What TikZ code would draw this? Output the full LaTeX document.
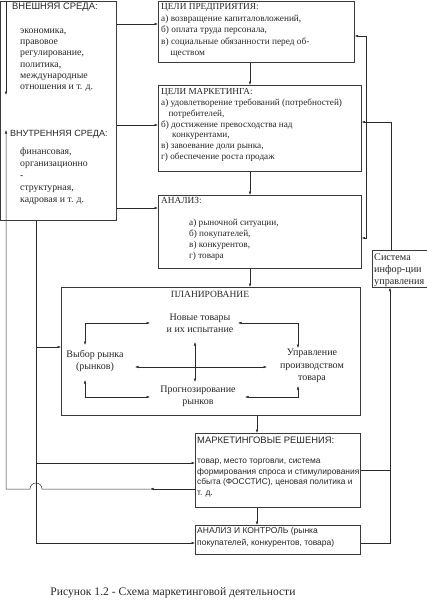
\documentclass[tikz,border=0pt]{standalone}
\usepackage{fontspec}
\setmainfont{Liberation Serif}
\setsansfont{Liberation Sans}
\usetikzlibrary{arrows.meta, positioning}
\definecolor{boxgray}{HTML}{3A3A3A}
\definecolor{linegray}{HTML}{2A2A2A}
\definecolor{txtgray}{HTML}{262626}

\begin{document}
\begin{tikzpicture}[
    x=1pt, y=-1pt,
    >={Latex[length=3.5pt,width=2.6pt]}, % small filled tips
    box/.style={draw=boxgray, line width=0.7pt, anchor=north west, inner sep=0pt}, % frames
    txt/.style={anchor=north west, inner sep=0pt, align=left, text=txtgray,
                font=\fontsize{9.3}{11.5}\selectfont}, % serif texts
    stxt/.style={txt, font=\sffamily\fontsize{8.4}{10.5}\selectfont}, % sans texts
    shead/.style={txt, font=\sffamily\fontsize{9.4}{11}\selectfont}, % sans headers
    ctxt/.style={txt, anchor=center, align=center, font=\fontsize{10}{11.8}\selectfont}, % centred texts
    link/.style={draw=linegray, line width=0.5pt},
    arr/.style={link, ->},
    dblarr/.style={link, <->}
]
    \useasboundingbox (0,0) rectangle (427,600);

    % Frames
    \node[box, minimum width=115.5pt, minimum height=219.5pt] (env) at (0.5,0.5) {};
    \node[box, minimum width=196pt, minimum height=61pt] (tp) at (158,1) {};
    \node[box, minimum width=203pt, minimum height=86pt] (tm) at (158,85) {};
    \node[box, minimum width=203pt, minimum height=73pt] (an) at (158,195) {};
    \node[box, minimum width=299pt, minimum height=128pt] (pl) at (61,287) {};
    \node[box, minimum width=165pt, minimum height=74pt] (mr) at (195,433) {};
    \node[box, minimum width=165pt, minimum height=29pt] (ak) at (195,525) {};
    \node[box, minimum width=54.5pt, minimum height=37pt] (si) at (372,250) {};

    % Environment texts
    \node[shead] (exthead) at (12,3) {ВНЕШНЯЯ СРЕДА:};
    \node[txt, font=\fontsize{9.8}{11.3}\selectfont] (extlist) at (20,28.5)
        {экономика,\\правовое\\регулирование,\\политика,\\международные\\отношения и т. д.};
    \node[shead, font=\sffamily\fontsize{9}{11}\selectfont] (inthead) at (10,130) {ВНУТРЕННЯЯ СРЕДА:};
    \node[txt, font=\fontsize{9.8}{12}\selectfont] (intlist) at (20,147.5)
        {финансовая,\\организационно\\-\\структурная,\\кадровая и т. д.};

    % Goals and analysis texts
    \node[txt] (tptext) at (161,3.5)
        {ЦЕЛИ ПРЕДПРИЯТИЯ:\\а) возвращение капиталовложений,\\б) оплата труда персонала,\\
         в) социальные обязанности перед об-\\\hspace*{1em}ществом};
    \node[txt, font=\fontsize{9.2}{10.8}\selectfont] (tmtext) at (161,88.5)
        {ЦЕЛИ МАРКЕТИНГА:\\а) удовлетворение требований (потребностей)\\\hspace*{0.8em}потребителей,\\
         б) достижение превосходства над\\\hspace*{1.2em}конкурентами,\\в) завоевание доли рынка,\\
         г) обеспечение роста продаж};
    \node[txt] (anhead) at (161,197.5) {АНАЛИЗ:};
    \node[txt, font=\fontsize{9.2}{11.2}\selectfont] (anlist) at (189,218.5)
        {а) рыночной ситуации,\\б) покупателей,\\в) конкурентов,\\г) товара};

    % Planning texts
    \node[ctxt, font=\fontsize{9.5}{11}\selectfont] (plhead) at (210,294) {ПЛАНИРОВАНИЕ};
    \node[ctxt] (nt) at (200,323) {Новые товары\\и их испытание};
    \node[ctxt] (vr) at (95,361) {Выбор рынка\\(рынков)};
    \node[ctxt, font=\fontsize{10}{12.5}\selectfont] (up) at (312,366) {Управление\\производством\\товара};
    \node[ctxt] (pr) at (198,396) {Прогнозирование\\рынков};

    % Decisions, control, information texts
    \node[shead] (mrhead) at (197,436.5) {МАРКЕТИНГОВЫЕ РЕШЕНИЯ:};
    \node[stxt] (mrtext) at (197,459)
        {товар, место торговли, система\\формирования спроса и стимулирования\\
         сбыта (ФОССТИС), ценовая политика и\\т. д.};
    \node[stxt, font=\sffamily\fontsize{8.5}{11.5}\selectfont] (aktext) at (197,527.5)
        {АНАЛИЗ И КОНТРОЛЬ (рынка\\покупателей, конкурентов, товара)};
    \node[txt, font=\fontsize{10.2}{12}\selectfont] (sitext) at (374,253.5)
        {Система\\инфор-ции\\управления};

    % Caption
    \node[ctxt, font=\fontsize{11.6}{13}\selectfont] (caption) at (173,593)
        {Рисунок 1.2 - Схема маркетинговой деятельности};

    % Inputs from the environment
    \coordinate (tpin) at ([yshift=-23pt]tp.north west);
    \coordinate (tmin) at ([yshift=-40pt]tm.north west);
    \coordinate (anin) at ([yshift=-13pt]an.north west);
    \draw[arr] (env.east |- tpin) -- (tpin);
    \draw[arr] (env.east |- tmin) -- (tmin);
    \draw[arr] (env.east |- anin) -- (anin);

    % Trunk down the left side
    \coordinate (trunk) at ([xshift=35.5pt]env.south west);
    \coordinate (plin) at ([yshift=-60pt]pl.north west);
    \coordinate (mrin) at ([yshift=-30pt]mr.north west);
    \coordinate (akin) at ([yshift=-18pt]ak.north west);
    \draw[arr] (trunk) |- (akin);
    \draw[arr] (trunk |- plin) -- (plin);
    \draw[arr] (trunk |- mrin) -- (mrin);

    % Feedback of decisions to the environment
    \coordinate (envtop) at ([xshift=5.5pt]env.north west);
    \coordinate (envext) at ([xshift=5.5pt,yshift=-94.5pt]env.north west);
    \coordinate (envint) at ([xshift=5.5pt,yshift=-129.5pt]env.north west);
    \coordinate (mrout) at ([yshift=-56pt]mr.north west);
    \coordinate (mrmid) at ([xshift=-45pt]mrout);
    \coordinate (hop) at (trunk |- mrout);
    \draw[arr] (envtop) -- (envext);
    \draw[arr] (mrout) -- (mrmid);
    \draw[arr] (mrmid) -- ([xshift=6pt]hop) arc[start angle=0, end angle=180, radius=6pt]
        -- (envint |- mrout) -- (envint);

    % Main chain
    \coordinate (chain) at ([xshift=92pt]tp.south west);
    \coordinate (chaintwo) at ([xshift=62pt]mr.north west);
    \draw[arr] (tp.south -| chain) -- (tm.north -| chain);
    \draw[arr] (tm.south -| chain) -- (an.north -| chain);
    \draw[arr] (an.south -| chain) -- (pl.north -| chain);
    \draw[arr] (pl.south -| chaintwo) -- (mr.north -| chaintwo);
    \draw[arr] (mr.south -| chaintwo) -- (ak.north -| chaintwo);

    % Links inside planning
    \coordinate (ntL) at (150,323);
    \coordinate (ntR) at (238,323);
    \coordinate (prL) at (150,397);
    \coordinate (prR) at (245,397);
    \coordinate (vrT) at (85,345);
    \coordinate (vrB) at (85,380);
    \coordinate (upT) at (298,348);
    \coordinate (upB) at (298,386);
    \coordinate (crossL) at (135,367);
    \coordinate (crossR) at (267,367);
    \coordinate (crossT) at (195,342);
    \coordinate (crossB) at (195,382);
    \draw[dblarr] (ntL) -| (vrT);
    \draw[dblarr] (ntR) -| (upT);
    \draw[dblarr] (prL) -| (vrB);
    \draw[dblarr] (prR) -| (upB);
    \draw[dblarr] (crossL) -- (crossR);
    \draw[dblarr] (crossT) -- (crossB);

    % Right side feedback
    \coordinate (tpback) at ([yshift=-35pt]tp.north east);
    \coordinate (anback) at ([yshift=-43pt]an.north east);
    \coordinate (rail) at ([xshift=5pt]anback);
    \draw[dblarr] (tpback) -| (rail) -- (anback);
    \coordinate (tmback) at ([yshift=-37pt]tm.north east);
    \coordinate (railtop) at ([xshift=19pt]si.north west);
    \draw[arr] (railtop) |- (tmback);
    \coordinate (mrback) at ([yshift=-37pt]mr.north east);
    \coordinate (akback) at ([yshift=-18pt]ak.north east);
    \coordinate (railbot) at ([xshift=18pt]si.south west);
    \draw[arr] (akback) -| (railbot);
    \draw[link] (mrback) -- (mrback -| railbot);

\end{tikzpicture}
\end{document}
